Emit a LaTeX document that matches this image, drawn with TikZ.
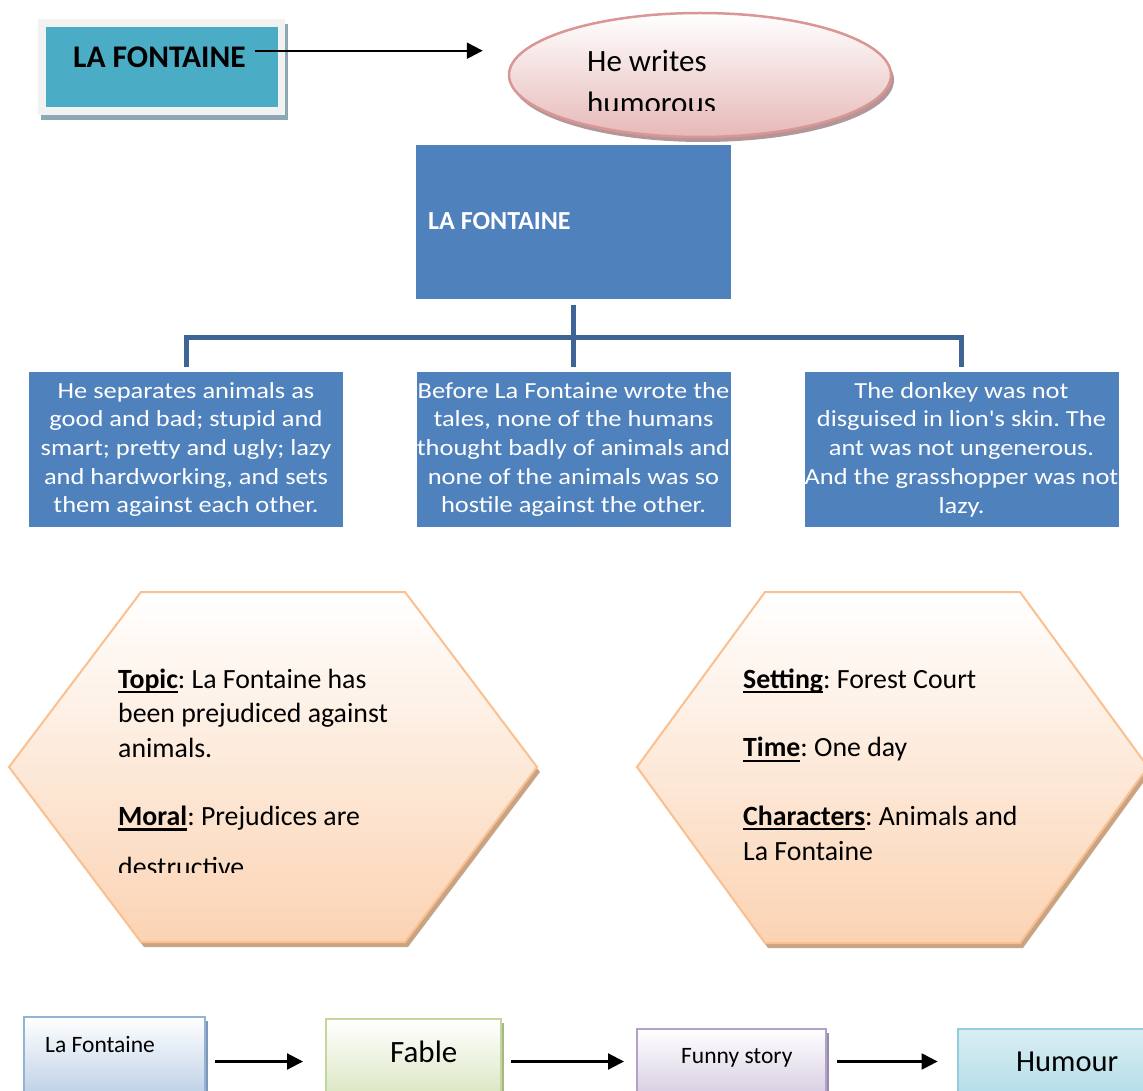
\documentclass[tikz,border=0pt]{standalone}
\usepackage{fontspec}
\setmainfont{Carlito}
\newfontfamily\stretchfont[FakeStretch=1.15,Ligatures=TeXOff]{Carlito}
\usetikzlibrary{arrows.meta,shapes.geometric,shadows}
\definecolor{tealbox}{HTML}{4BACC6}
\definecolor{framegray}{HTML}{F2F2F2}
\definecolor{frameshadow}{HTML}{8DA7B3}
\definecolor{ellborder}{HTML}{D99694}
\definecolor{ellbottom}{HTML}{E6B9B8}
\definecolor{ellshadow}{HTML}{B39798}
\definecolor{blueboxc}{HTML}{4F81BD}
\definecolor{treeline}{HTML}{3F6496}
\definecolor{hexborder}{HTML}{FAC090}
\definecolor{hexbottom}{HTML}{FBD3B3}
\definecolor{hexshadow}{HTML}{C9A484}
\definecolor{lfborder}{HTML}{95B3D7}
\definecolor{lfbottom}{HTML}{B9CDE5}
\definecolor{fbborder}{HTML}{C3D69B}
\definecolor{fbbottom}{HTML}{D7E4BD}
\definecolor{fsborder}{HTML}{B3A2C7}
\definecolor{fsbottom}{HTML}{CCC1DA}
\definecolor{huborder}{HTML}{93CDDD}
\definecolor{hutop}{HTML}{DAEEF3}
\definecolor{hubottom}{HTML}{A9D9E5}
\newcommand{\ulab}[1]{{\setbox0=\hbox{\bfseries #1}\rlap{\rule[-5pt]{\wd0}{2.2pt}}\box0}}
\frenchspacing
\begin{document}
\begin{tikzpicture}[x=1pt,y=-1pt,
  txt/.style={inner sep=0pt, anchor=base west},
  arr/.style={line width=2.2pt, -{Triangle[length=16pt,width=16pt]}},
  tree/.style={line width=5pt, draw=treeline},
  bluebox/.style={fill=blueboxc, inner sep=0pt, text=white, align=center,
    minimum width=314pt, minimum height=155pt,
    font=\stretchfont\fontsize{23}{28.7}\selectfont},
  htxt/.style={txt, font=\fontsize{27.8}{34}\selectfont},
  hexshape/.style={top color=white, bottom color=hexbottom, draw=hexborder, line width=2pt},
  lowbox/.style={anchor=north west, inner sep=0pt, line width=2pt, minimum height=84pt},
]
\useasboundingbox[fill=white] (0,0) rectangle (1143,1091);

% ---------- top-left box ----------
\node[anchor=north west, fill=framegray, inner sep=0pt, minimum width=247pt, minimum height=96pt,
  drop shadow={shadow xshift=3pt, shadow yshift=-5pt, fill=frameshadow, opacity=1}] (tlf) at (38,19) {};
\node[anchor=north west, fill=tealbox, inner sep=0pt, minimum width=232pt, minimum height=80.6pt] (tli) at (46,26.7) {};
\node[txt, font=\bfseries\fontsize{31.5}{38}\selectfont] (tlt) at (73,67.5) {LA FONTAINE};

% ---------- ellipse ----------
\node[ellipse, inner sep=0pt, minimum width=382pt, minimum height=124pt,
  top color=white, bottom color=ellbottom, draw=ellborder, line width=2.5pt,
  drop shadow={shadow xshift=3pt, shadow yshift=-5pt, fill=ellshadow, opacity=1}] (ell) at (700,75) {};
\begin{scope}
  \clip (500,0) rectangle (900,110.7);
  \node[txt, font=\fontsize{31}{38}\selectfont] (ew1) at (587,72) {He writes};
  \node[txt, font=\fontsize{31}{38}\selectfont] (ew2) at (587,113.7) {humorous};
\end{scope}
\coordinate (yt) at (0,50.7);
\draw[arr, shorten <=9pt, shorten >=25pt] (tlt.east |- yt) -- (ell.west |- yt);

% ---------- big box ----------
\node[fill=blueboxc, inner sep=0pt, minimum width=315pt, minimum height=154pt] (big) at (573.5,222) {};
\node[txt, text=white, font=\bfseries\fontsize{26}{31}\selectfont] (bigt) at (428,230) {LA FONTAINE};

% ---------- three blue boxes ----------
\node[bluebox] (b1) at (186,449.5) {He separates animals as\\good and bad; stupid and\\smart; pretty and ugly; lazy\\and hardworking, and sets\\them against each other.};
\node[bluebox] (b2) at (573.5,449.5) {Before La Fontaine wrote the\\tales, none of the humans\\thought badly of animals and\\none of the animals was so\\hostile against the other.};
\node[bluebox] (b3) at (961.5,449.5) {The donkey was not\\disguised in lion's skin. The\\ant was not ungenerous.\\And the grasshopper was not\\lazy.};

% ---------- tree connectors ----------
\coordinate (j) at (573.5,337);
\draw[tree] ([yshift=-6pt]big.south) -- ([yshift=5pt]b2.north);
\draw[tree] ([yshift=5pt]b1.north) -- (b1.north |- j) -- (b3.north |- j) -- ([yshift=5pt]b3.north);

% ---------- hexagons ----------
\fill[hexshadow] (12,772)--(144,597)--(408,597)--(540,772)--(408,947)--(144,947)--cycle;
\shadedraw[hexshape] (9,767)--(141,592)--(405,592)--(537,767)--(405,942)--(141,942)--cycle;
\fill[hexshadow] (640,772)--(768,597)--(1023,597)--(1151,772)--(1023,948)--(768,948)--cycle;
\shadedraw[hexshape] (637,767)--(765,592)--(1020,592)--(1148,767)--(1020,943)--(765,943)--cycle;

\node[htxt] (t1) at (118,688.3) {\ulab{Topic}: La Fontaine has};
\node[htxt] (t2) at (118,722.6) {been prejudiced against};
\node[htxt] (t3) at (118,757) {animals.};
\node[htxt] (t4) at (118,825.5) {\ulab{Moral}: Prejudices are};
\begin{scope}
  \clip (0,0) rectangle (600,872.7);
  \node[htxt] (t5) at (118,876) {destructive};
\end{scope}

\node[htxt] (s1) at (743,688.3) {\ulab{Setting}: Forest Court};
\node[htxt] (s2) at (743,756.7) {\ulab{Time}: One day};
\node[htxt] (s3) at (743,825) {\ulab{Characters}: Animals and};
\node[htxt] (s4) at (743,860) {La Fontaine};

% ---------- bottom row ----------
\node[lowbox, minimum width=181pt, top color=white, bottom color=lfbottom, draw=lfborder,
  drop shadow={shadow xshift=3pt, shadow yshift=-4pt, fill=lfborder!85!black, opacity=1}] (lf) at (23,1016) {};
\node[txt, font=\fontsize{23.5}{28}\selectfont] (lft) at (45,1052) {La Fontaine};

\node[lowbox, minimum width=175pt, top color=white, bottom color=fbbottom, draw=fbborder,
  drop shadow={shadow xshift=3pt, shadow yshift=-4pt, fill=fbborder!85!black, opacity=1}] (fb) at (325,1018) {};
\node[txt, font=\fontsize{31}{37}\selectfont] (fbt) at (390,1062) {Fable};

\node[lowbox, minimum width=189pt, top color=white, bottom color=fsbottom, draw=fsborder,
  drop shadow={shadow xshift=3pt, shadow yshift=-4pt, fill=fsborder!85!black, opacity=1}] (fs) at (636,1028) {};
\node[txt, font=\fontsize{23.5}{28}\selectfont] (fst) at (681,1063) {Funny story};

\node[lowbox, minimum width=200pt, top color=hutop, bottom color=hubottom, draw=huborder] (hu) at (956.6,1028) {};
\node[txt, font=\fontsize{30.5}{37}\selectfont] (hut) at (1016,1071.5) {Humour};

\coordinate (yb) at (0,1061.5);
\draw[arr, shorten <=9pt, shorten >=22pt] (lf.east |- yb) -- (fb.west |- yb);
\draw[arr, shorten <=9pt, shorten >=12pt] (fb.east |- yb) -- (fs.west |- yb);
\draw[arr, shorten <=10pt, shorten >=19pt] (fs.east |- yb) -- (hu.west |- yb);
\end{tikzpicture}
\end{document}
